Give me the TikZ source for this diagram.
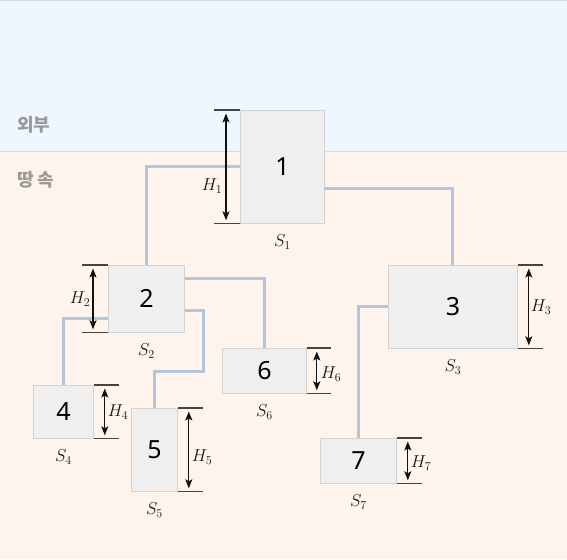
\documentclass[tikz,border=0pt]{standalone}
\usepackage{fontspec}
\setsansfont{Noto Sans}
\newfontfamily\kofont{Noto Sans CJK KR}
\usetikzlibrary{arrows.meta}
\definecolor{skyc}{HTML}{EEF6FF}
\definecolor{soilc}{HTML}{FFF4EB}
\definecolor{edgec}{HTML}{DADADA}
\definecolor{boxfill}{HTML}{EFEFEF}
\definecolor{boxline}{HTML}{D2D2D2}
\definecolor{connc}{HTML}{B3C5DC}
\definecolor{labc}{HTML}{999999}
\definecolor{dimc}{HTML}{111111}
\definecolor{tickc}{HTML}{444444}
\tikzset{
  x=1pt,y=-1pt,
  boxst/.style={draw=boxline,line width=0.8pt,fill=boxfill,anchor=north west,inner sep=0pt},
  numst/.style={font=\sffamily\fontsize{25}{30}\selectfont,text=black,inner sep=0pt},
  conn/.style={draw=connc,line width=3pt},
  tickst/.style={draw=tickc,line width=1.1pt},
  dimarrow/.style={draw=dimc,line width=1.1pt,shorten <=3.5pt,shorten >=3.5pt,
    {Stealth[length=9pt,width=7pt,inset=2pt]}-{Stealth[length=9pt,width=7pt,inset=2pt]}},
  dimlab/.style={font=\fontsize{17}{20}\selectfont,text=dimc,inner sep=0pt},
  slab/.style={font=\fontsize{17}{20}\selectfont,text=dimc,inner sep=0pt},
  zonelab/.style={font=\kofont\bfseries\fontsize{18}{21}\selectfont,text=labc,anchor=west,inner sep=0pt}
}
\begin{document}
\begin{tikzpicture}
\useasboundingbox (0,0) rectangle (567,559);
\fill[skyc] (0,0) rectangle (567,151);
\fill[soilc] (0,151) rectangle (567,559);
\draw[edgec,line width=0.8pt] (0,151) -- (567,151);
\draw[edgec,line width=0.8pt] (0,0.5) -- (567,0.5);
\node[zonelab] (zsky) at (17,125) {외부};
\node[zonelab] (zsoil) at (17,180) {땅 속};

% boxes
\node[boxst,minimum width=84pt,minimum height=113pt] (b1) at (240,110) {};
\node[boxst,minimum width=76pt,minimum height=67pt] (b2) at (108,265) {};
\node[boxst,minimum width=129pt,minimum height=83pt] (b3) at (388,265) {};
\node[boxst,minimum width=60pt,minimum height=53pt] (b4) at (33,385) {};
\node[boxst,minimum width=46pt,minimum height=83pt] (b5) at (131,408) {};
\node[boxst,minimum width=84pt,minimum height=45pt] (b6) at (222,348) {};
\node[boxst,minimum width=76pt,minimum height=45pt] (b7) at (320,438) {};

% connectors
\coordinate (k5) at (203,371);
\draw[conn] (b1.west) -| (b2.north);
\draw[conn] ([yshift=-22pt]b1.east) -| (b3.north);
\draw[conn] ([yshift=-20pt]b2.west) -| (b4.north);
\draw[conn] ([yshift=20pt]b2.east) -| (b6.north);
\draw[conn] ([yshift=-12pt]b2.east) -| (k5) -| (b5.north);
\draw[conn] (b3.west) -| (b7.north);

% redraw boxes on top with numbers
\foreach \n in {1,...,7}{
  \draw[boxline,line width=0.8pt,fill=boxfill] (b\n.north west) rectangle (b\n.south east);
  \node[numst] (t\n) at (b\n.center) {\n};
}

% dimension: left side
\draw[tickst] (b1.north west) -- ++(-26,0);
\draw[tickst] (b1.south west) -- ++(-26,0);
\draw[dimarrow] ([xshift=-14pt]b1.north west) -- ([xshift=-14pt]b1.south west);
\node[dimlab] (h1) at (212,186) {$H_1$};

\draw[tickst] (b2.north west) -- ++(-26,0);
\draw[tickst] (b2.south west) -- ++(-26,0);
\draw[dimarrow] ([xshift=-15pt]b2.north west) -- ([xshift=-15pt]b2.south west);
\node[dimlab] (h2) at (80,299) {$H_2$};

% right side
\draw[tickst] (b3.north east) -- ++(25,0);
\draw[tickst] (b3.south east) -- ++(25,0);
\draw[dimarrow] ([xshift=11pt]b3.north east) -- ([xshift=11pt]b3.south east);
\node[dimlab] (h3) at (541,307) {$H_3$};

\draw[tickst] (b4.north east) -- ++(25,0);
\draw[tickst] (b4.south east) -- ++(25,0);
\draw[dimarrow] ([xshift=11pt]b4.north east) -- ([xshift=11pt]b4.south east);
\node[dimlab] (h4) at (118,412) {$H_4$};

\draw[tickst] (b5.north east) -- ++(25,0);
\draw[tickst] (b5.south east) -- ++(25,0);
\draw[dimarrow] ([xshift=11pt]b5.north east) -- ([xshift=11pt]b5.south east);
\node[dimlab] (h5) at (202,457) {$H_5$};

\draw[tickst] (b6.north east) -- ++(24,0);
\draw[tickst] (b6.south east) -- ++(24,0);
\draw[dimarrow] ([xshift=10pt]b6.north east) -- ([xshift=10pt]b6.south east);
\node[dimlab] (h6) at (331,374) {$H_6$};

\draw[tickst] (b7.north east) -- ++(25,0);
\draw[tickst] (b7.south east) -- ++(25,0);
\draw[dimarrow] ([xshift=11pt]b7.north east) -- ([xshift=11pt]b7.south east);
\node[dimlab] (h7) at (421,463) {$H_7$};

% S labels
\foreach \n in {1,...,7}{
  \node[slab] (s\n) at ([yshift=-18pt]b\n.south) {$S_\n$};
}
\end{tikzpicture}
\end{document}
